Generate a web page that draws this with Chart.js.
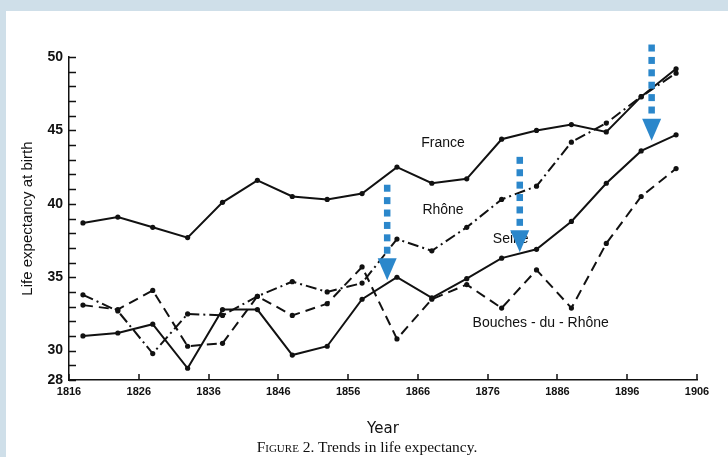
<!DOCTYPE html>
<html>
<head>
<meta charset="utf-8">
<script src="https://cdn.jsdelivr.net/npm/chart.js@4/dist/chart.umd.min.js"></script>
<style>
  html, body { margin: 0; padding: 0; }
  body { width: 728px; height: 457px; background: #cfdfe9; position: relative; overflow: hidden; }
  #panel { position: absolute; left: 6px; top: 11px; width: 722px; height: 446px; background: #ffffff; }
  #chart { position: absolute; left: 0; top: 0; }
  #caption { position: absolute; left: 0; width: 734px; top: 438px; text-align: center;
             font-family: "Liberation Serif", "DejaVu Serif", serif; font-size: 15.5px; color: #111; }
  #caption .sc { font-variant: small-caps; }
</style>
</head>
<body>
<div id="panel"></div>
<canvas id="chart" width="728" height="457"></canvas>
<div id="caption"><span class="sc">Figure</span> 2. Trends in life expectancy.</div>
<script>
// Five-year period midpoints
const years = [1818, 1823, 1828, 1833, 1838, 1843, 1848, 1853, 1858,
               1863, 1868, 1873, 1878, 1883, 1888, 1893, 1898, 1903];

// Life expectancy at birth (years)
const france  = [38.7, 39.1, 38.4, 37.7, 40.1, 41.6, 40.5, 40.3, 40.7,
                 42.5, 41.4, 41.7, 44.4, 45.0, 45.4, 44.9, 47.3, 49.2];
const rhone   = [33.8, 32.7, 29.8, 32.5, 32.4, 33.7, 34.7, 34.0, 34.6,
                 37.6, 36.8, 38.4, 40.3, 41.2, 44.2, 45.5, 47.3, 48.9];
const seine   = [31.0, 31.2, 31.8, 28.8, 32.8, 32.8, 29.7, 30.3, 33.5,
                 35.0, 33.6, 34.9, 36.3, 36.9, 38.8, 41.4, 43.6, 44.7];
const bouches = [33.1, 32.8, 34.1, 30.3, 30.5, 33.7, 32.4, 33.2, 35.7,
                 30.8, 33.5, 34.5, 32.9, 35.5, 32.9, 37.3, 40.5, 42.4];

// Axis ticks
const xTicks = [1816, 1826, 1836, 1846, 1856, 1866, 1876, 1886, 1896, 1906];
const yLabelled = [28, 30, 35, 40, 45, 50];

// Series name labels placed in data space
const seriesLabels = [
  { text: 'France', year: 1869.6, value: 44.15 },
  { text: 'Rhône', year: 1869.6, value: 39.55 },
  { text: 'Seine', year: 1879.3, value: 37.6 },
  { text: 'Bouches - du - Rhône', year: 1883.6, value: 31.9 }
];

// Downward arrows: year, start value, tip value
const arrows = [
  { year: 1861.6, from: 41.3, to: 34.8 },
  { year: 1880.6, from: 43.2, to: 36.7 },
  { year: 1899.5, from: 50.85, to: 44.3 }
];

const toPoints = vals => vals.map((v, i) => ({ x: years[i], y: v }));
const INK = '#111111';

const innerTicks = {
  id: 'innerTicks',
  afterDraw(chart) {
    const { ctx, scales: { x, y }, chartArea } = chart;
    ctx.save();
    ctx.strokeStyle = INK;
    ctx.lineWidth = 1.5;
    ctx.beginPath();
    for (let v = 28; v <= 50; v++) {
      const py = Math.round(y.getPixelForValue(v)) + 0.5;
      ctx.moveTo(chartArea.left, py);
      ctx.lineTo(chartArea.left + 7, py);
    }
    xTicks.forEach(v => {
      const px = Math.round(x.getPixelForValue(v));
      ctx.moveTo(px, chartArea.bottom);
      ctx.lineTo(px, chartArea.bottom - 6);
    });
    ctx.stroke();
    ctx.restore();
  }
};

const annotations = {
  id: 'annotations',
  afterDatasetsDraw(chart) {
    const { ctx, scales: { x, y } } = chart;
    ctx.save();
    ctx.fillStyle = INK;
    ctx.font = '14px "Liberation Sans", Arial, sans-serif';
    ctx.textAlign = 'center';
    ctx.textBaseline = 'middle';
    seriesLabels.forEach(l => {
      ctx.fillText(l.text, x.getPixelForValue(l.year), y.getPixelForValue(l.value));
    });

    ctx.fillStyle = '#2b87cb';
    arrows.forEach(a => {
      const px = x.getPixelForValue(a.year);
      const top = y.getPixelForValue(a.from);
      const tip = y.getPixelForValue(a.to);
      const headTop = tip - 22;
      for (let py = top; py + 6 <= headTop; py += 12.4) {
        ctx.fillRect(px - 3.25, py, 6.5, 7);
      }
      ctx.beginPath();
      ctx.moveTo(px - 9.5, headTop);
      ctx.lineTo(px + 9.5, headTop);
      ctx.lineTo(px, tip);
      ctx.closePath();
      ctx.fill();
    });
    ctx.restore();
  }
};

const lineStyle = {
  borderColor: INK,
  backgroundColor: INK,
  borderWidth: 2,
  pointRadius: 2.6,
  pointBorderWidth: 0,
  pointBackgroundColor: INK,
  tension: 0,
  fill: false
};

new Chart(document.getElementById('chart'), {
  type: 'line',
  data: {
    datasets: [
      { label: 'France', data: toPoints(france), ...lineStyle },
      { label: 'Rhône', data: toPoints(rhone), ...lineStyle, borderDash: [11, 4, 2, 4] },
      { label: 'Seine', data: toPoints(seine), ...lineStyle },
      { label: 'Bouches-du-Rhône', data: toPoints(bouches), ...lineStyle, borderDash: [10, 6] }
    ]
  },
  options: {
    responsive: false,
    animation: false,
    devicePixelRatio: 1,
    layout: { padding: { top: 57, right: 31, left: 0, bottom: 0 } },
    plugins: { legend: { display: false }, tooltip: { enabled: false } },
    scales: {
      x: {
        type: 'linear',
        min: 1816,
        max: 1906,
        afterBuildTicks: s => { s.ticks = xTicks.map(v => ({ value: v })); },
        afterFit: s => { s.height = 77; },
        ticks: {
          autoSkip: false,
          maxRotation: 0,
          padding: 5,
          color: INK,
          font: { family: '"Liberation Sans", Arial, sans-serif', size: 11, weight: 'bold' },
          callback: v => String(v)
        },
        grid: { drawOnChartArea: false, drawTicks: false },
        border: { display: true, color: INK, width: 1.5 },
        title: {
          display: true,
          text: 'Year',
          color: INK,
          padding: { top: 0, bottom: 19 },
          font: { family: '"DejaVu Sans", sans-serif', size: 15 }
        }
      },
      y: {
        min: 28,
        max: 50,
        afterBuildTicks: s => {
          const t = [];
          for (let v = 28; v <= 50; v++) t.push({ value: v });
          s.ticks = t;
        },
        afterFit: s => { s.width = 69; },
        ticks: {
          autoSkip: false,
          padding: 6,
          color: INK,
          font: { family: '"Liberation Sans", Arial, sans-serif', size: 14, weight: 'bold' },
          callback: v => (yLabelled.includes(v) ? String(v) : '')
        },
        grid: { drawOnChartArea: false, drawTicks: false },
        border: { display: true, color: INK, width: 1.5 },
        title: {
          display: true,
          text: 'Life expectancy at birth',
          color: INK,
          padding: { top: 19, bottom: 0 },
          font: { family: '"Liberation Sans", Arial, sans-serif', size: 15 }
        }
      }
    }
  },
  plugins: [innerTicks, annotations]
});
</script>
</body>
</html>
